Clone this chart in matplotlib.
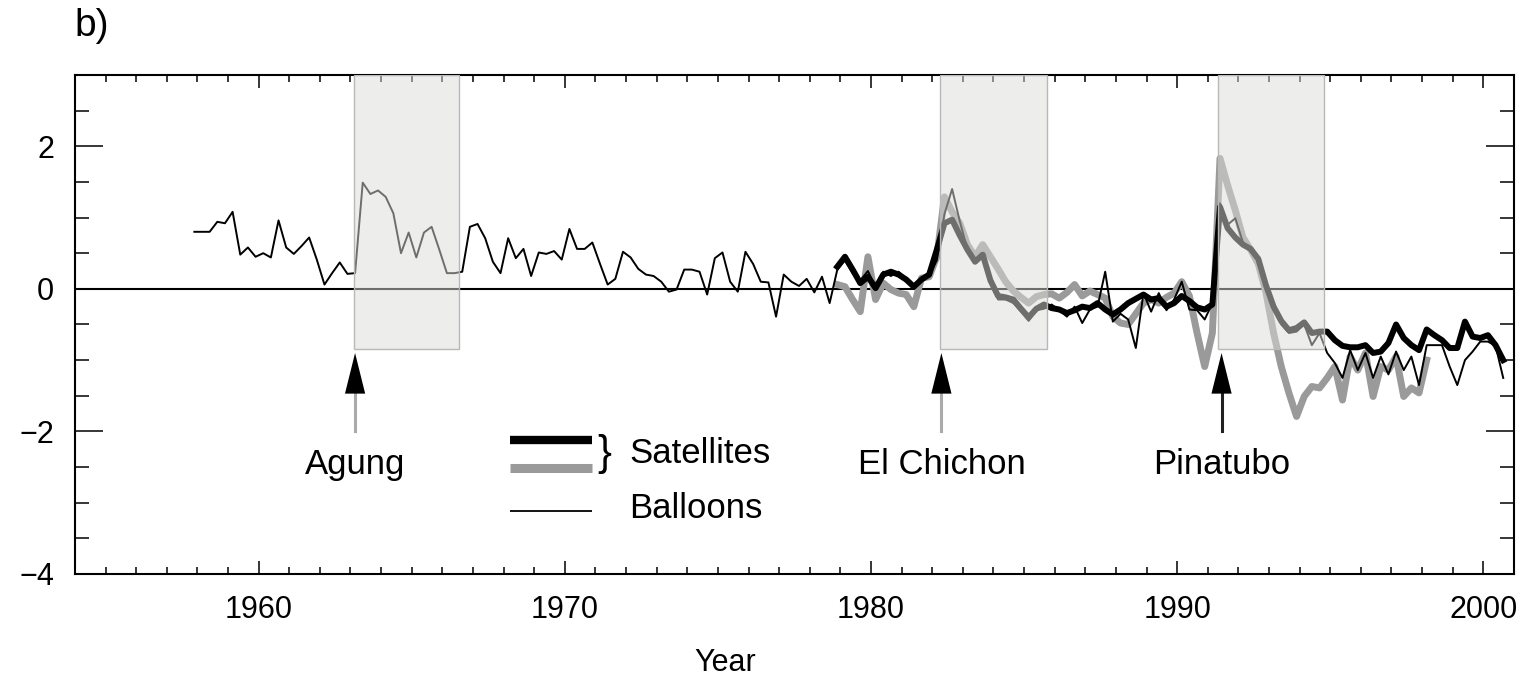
import matplotlib
matplotlib.use("Agg")
import matplotlib.pyplot as plt
import numpy as np
from matplotlib.patches import Rectangle

plt.rcParams['font.family'] = ['Liberation Sans', 'DejaVu Sans']

# Seasonal anomalies (K), one value per quarter starting late 1957
balloons = [
    0.80, 0.80, 0.80, 0.94, 0.92, 1.08, 0.48, 0.58, 0.45, 0.50,
    0.44, 0.96, 0.58, 0.49, 0.60, 0.72, 0.41, 0.06, 0.22, 0.37,
    0.21, 0.22, 1.49, 1.33, 1.38, 1.29, 1.06, 0.50, 0.79, 0.44,
    0.79, 0.87, 0.55, 0.22, 0.22, 0.24, 0.87, 0.91, 0.71, 0.38,
    0.22, 0.71, 0.43, 0.56, 0.18, 0.51, 0.49, 0.53, 0.41, 0.84,
    0.56, 0.56, 0.65, 0.35, 0.06, 0.14, 0.52, 0.44, 0.28, 0.20,
    0.18, 0.10, -0.04, -0.01, 0.27, 0.27, 0.24, -0.08, 0.43, 0.51,
    0.10, -0.04, 0.52, 0.35, 0.10, 0.09, -0.39, 0.20, 0.10, 0.04,
    0.14, -0.05, 0.17, -0.20, 0.27, 0.40, 0.22, 0.12, 0.25, 0.02,
    0.24, 0.18, 0.24, 0.15, 0.05, 0.16, 0.18, 0.40, 1.05, 1.40,
    0.95, 0.55, 0.40, 0.45, 0.15, -0.15, -0.15, -0.20, -0.32, -0.45,
    -0.30, -0.28, -0.22, -0.30, -0.39, -0.25, -0.48, -0.29, -0.25, 0.24,
    -0.46, -0.35, -0.43, -0.83, -0.06, -0.32, -0.06, -0.30, -0.15, 0.10,
    -0.29, -0.30, -0.43, -0.20, 1.20, 0.90, 0.99, 0.65, 0.55, 0.40,
    0.00, -0.30, -0.50, -0.62, -0.60, -0.50, -0.79, -0.62, -0.90, -1.04,
    -1.25, -0.86, -1.14, -0.90, -1.25, -0.95, -1.20, -0.88, -1.14, -0.95,
    -1.35, -0.79, -0.79, -0.79, -1.09, -1.35, -1.00, -0.88, -0.74, -0.74,
    -0.80, -1.25,
]

# satellite records start in late 1978
sat_black = [
    0.31, 0.45, 0.27, 0.08, 0.17, 0.01, 0.20, 0.24, 0.20, 0.13,
    0.03, 0.13, 0.20, 0.55, 0.92, 0.97, 0.75, 0.55, 0.38, 0.48,
    0.12, -0.10, -0.12, -0.15, -0.28, -0.40, -0.28, -0.22, -0.27, -0.29,
    -0.34, -0.30, -0.25, -0.27, -0.20, -0.29, -0.36, -0.29, -0.20, -0.14,
    -0.08, -0.15, -0.13, -0.25, -0.20, -0.10, -0.17, -0.26, -0.29, -0.22,
    1.15, 0.85, 0.72, 0.62, 0.56, 0.42, 0.05, -0.25, -0.45, -0.58,
    -0.55, -0.47, -0.62, -0.60, -0.60, -0.72, -0.80, -0.82, -0.82, -0.79,
    -0.90, -0.88, -0.76, -0.50, -0.69, -0.79, -0.86, -0.57, -0.65, -0.72,
    -0.83, -0.83, -0.46, -0.67, -0.69, -0.65, -0.79, -1.00,
]

sat_gray = [
    0.06, 0.03, -0.15, -0.32, 0.45, -0.15, 0.08, -0.01, -0.06, -0.08,
    -0.25, 0.15, 0.17, 0.45, 1.29, 1.08, 0.92, 0.62, 0.45, 0.62,
    0.45, 0.28, 0.10, -0.03, -0.12, -0.20, -0.11, -0.08, -0.07, -0.13,
    -0.05, 0.06, -0.10, -0.03, -0.08, -0.13, -0.39, -0.48, -0.50, -0.35,
    -0.20, -0.15, -0.20, -0.12, -0.06, 0.10, -0.10, -0.62, -1.09, -0.62,
    1.83, 1.45, 1.10, 0.72, 0.55, 0.35, -0.05, -0.62, -1.09, -1.46,
    -1.79, -1.51, -1.37, -1.39, -1.25, -1.09, -1.56, -0.95, -1.14, -0.90,
    -1.51, -1.09, -1.14, -0.95, -1.51, -1.39, -1.46, -1.00,
]

t_balloons = 1957.9 + 0.25 * np.arange(len(balloons))
t_black = 1978.9 + 0.25 * np.arange(len(sat_black))
t_gray = 1978.9 + 0.25 * np.arange(len(sat_gray))

# eruptions and the shaded period that follows each one
eruptions = ["Agung", "El Chichon", "Pinatubo"]
erupt_year = [1963.15, 1982.3, 1991.45]
shade_start = [1963.1, 1982.27, 1991.35]
shade_end = [1966.55, 1985.75, 1994.8]
shaft_color = ["#aaaaaa", "#aaaaaa", "#222222"]

fig = plt.figure(figsize=(15.26, 6.86), dpi=100)
ax = fig.add_axes([0.0491, 0.1633, 0.9430, 0.7274])

ax.axhline(0, color="black", lw=1.5, zorder=1)
ax.plot(t_gray, sat_gray, color="#9a9a9a", lw=5.0, solid_joinstyle="round", zorder=2)
ax.plot(t_black, sat_black, color="black", lw=4.3, solid_joinstyle="round", zorder=3)
ax.plot(t_balloons, balloons, color="black", lw=1.4, zorder=4)

box_bottom = -0.85
for x0, x1 in zip(shade_start, shade_end):
    ax.add_patch(Rectangle((x0, box_bottom), x1 - x0, 3 - box_bottom,
                           facecolor="#dcdcd8", alpha=0.5, edgecolor="none", zorder=5))
    ax.add_patch(Rectangle((x0, box_bottom), x1 - x0, 3 - box_bottom,
                           fill=False, edgecolor="#b8b8b8", lw=1.0, zorder=6))

# arrows under each eruption
for name, x, c in zip(eruptions, erupt_year, shaft_color):
    ax.plot([x, x], [-2.0, -1.45], color=c, lw=2.2, zorder=6)
    ax.fill([x - 0.33, x + 0.33, x], [-1.47, -1.47, -0.9], color="black", lw=0, zorder=7)
    ax.text(x, -2.47, name, ha="center", va="center", fontsize=25)

# legend
ax.plot([1968.2, 1970.9], [-2.12, -2.12], color="black", lw=6, solid_capstyle="butt")
ax.plot([1968.2, 1970.9], [-2.51, -2.51], color="#9a9a9a", lw=6.5, solid_capstyle="butt")
ax.plot([1968.2, 1970.9], [-3.11, -3.11], color="black", lw=1.3, solid_capstyle="butt")
ax.text(1971.05, -2.31, "}", ha="left", va="center", fontsize=30, fontweight="light")
ax.text(1972.1, -2.31, "Satellites", ha="left", va="center", fontsize=25)
ax.text(1972.1, -3.08, "Balloons", ha="left", va="center", fontsize=25)

ax.set_xlim(1954, 2001)
ax.set_ylim(-4, 3)
ax.set_xticks([1960, 1970, 1980, 1990, 2000])
ax.set_xticks(np.arange(1955, 2001), minor=True)
ax.set_yticks([-4, -2, 0, 2])
ax.set_yticklabels(["\u22124", "\u22122", "0", "2"])
ax.set_yticks(np.arange(-4, 3.01, 0.5), minor=True)

ax.tick_params(axis="x", which="major", direction="in", length=9.5, width=1.1,
               top=True, labelsize=22, pad=15)
ax.tick_params(axis="x", which="minor", direction="in", length=5, width=1.1, top=True)
ax.tick_params(axis="y", which="major", direction="in", length=20, width=1.1,
               right=True, labelsize=22, pad=15)
ax.tick_params(axis="y", which="minor", direction="in", length=10, width=1.1, right=True)
for s in ax.spines.values():
    s.set_linewidth(1.5)

fig.text(0.475, 0.034, "Year", ha="center", va="center", fontsize=22)
fig.text(0.049, 0.962, "b)", ha="left", va="center", fontsize=28)

fig.savefig("out.png", dpi=100)
